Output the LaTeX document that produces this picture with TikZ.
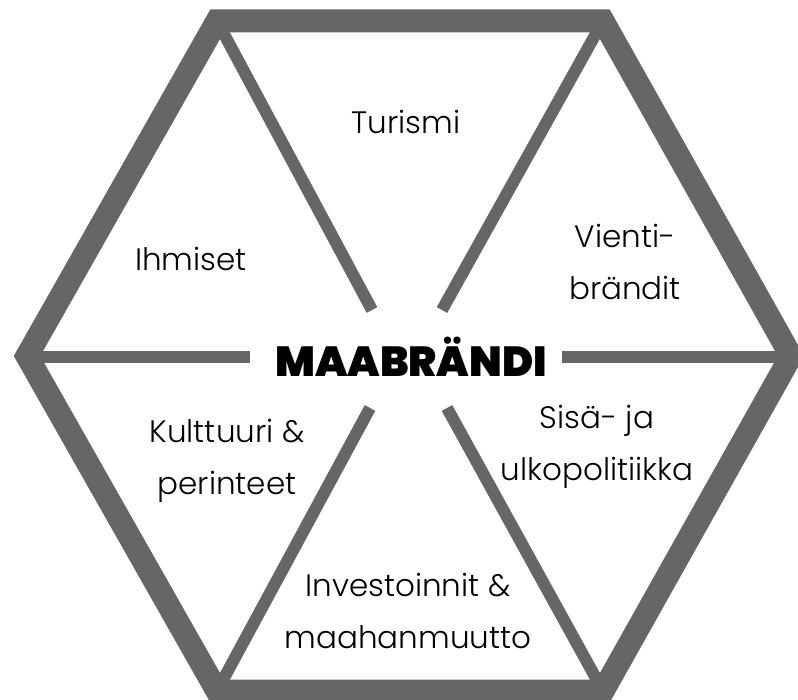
\documentclass[tikz,border=0pt]{standalone}
\usepackage{fontspec}
\setmainfont{Poppins}[UprightFont=* Light, BoldFont=* Black]
\definecolor{hexgray}{HTML}{666666}
\begin{document}
\begin{tikzpicture}[x=1pt,y=-1pt,
  border/.style={draw=hexgray,line width=23pt,line join=miter},
  spoke/.style={draw=hexgray,line width=12pt},
  lbl/.style={font=\fontsize{31}{52}\selectfont, align=center, inner sep=0pt, text=black},
  title/.style={font=\bfseries\fontsize{42}{44}\selectfont, inner sep=0pt, text=black}]
\useasboundingbox (0,0) rectangle (798,700);
% hexagon vertices
\coordinate (v1) at (217,21);
\coordinate (v2) at (603,21);
\coordinate (v3) at (791,356);
\coordinate (v4) at (603,691);
\coordinate (v5) at (217,691);
\coordinate (v6) at (27,356);
% spoke inner ends
\coordinate (e1) at (372,310);
\coordinate (e2) at (442,310);
\coordinate (e3) at (562,357);
\coordinate (e4) at (447,408);
\coordinate (e5) at (370,408);
\coordinate (e6) at (250,357);
\coordinate (h3) at (791,357);
\coordinate (h6) at (27,357);
% spokes
\draw[spoke] (v1) -- (e1);
\draw[spoke] (v2) -- (e2);
\draw[spoke] (h3) -- (e3);
\draw[spoke] (v4) -- (e4);
\draw[spoke] (v5) -- (e5);
\draw[spoke] (h6) -- (e6);
% outer hexagon
\draw[border] (v1) -- (v2) -- (v3) -- (v4) -- (v5) -- (v6) -- cycle;
% labels
\node[title] (center) at (411,357) {MAABRÄNDI};
\node[lbl] (turismi) at (406,122) {Turismi};
\node[lbl] (ihmiset) at (191,259) {Ihmiset};
\node[lbl] (vienti) at (625,262) {Vienti-\\brändit};
\node[lbl] (kult) at (227,461) {Kulttuuri \&\\perinteet};
\node[lbl] (sisa) at (597,447) {Sisä- ja\\ulkopolitiikka};
\node[lbl] (inv) at (408,611) {Investoinnit \&\\maahanmuutto};
\end{tikzpicture}
\end{document}
